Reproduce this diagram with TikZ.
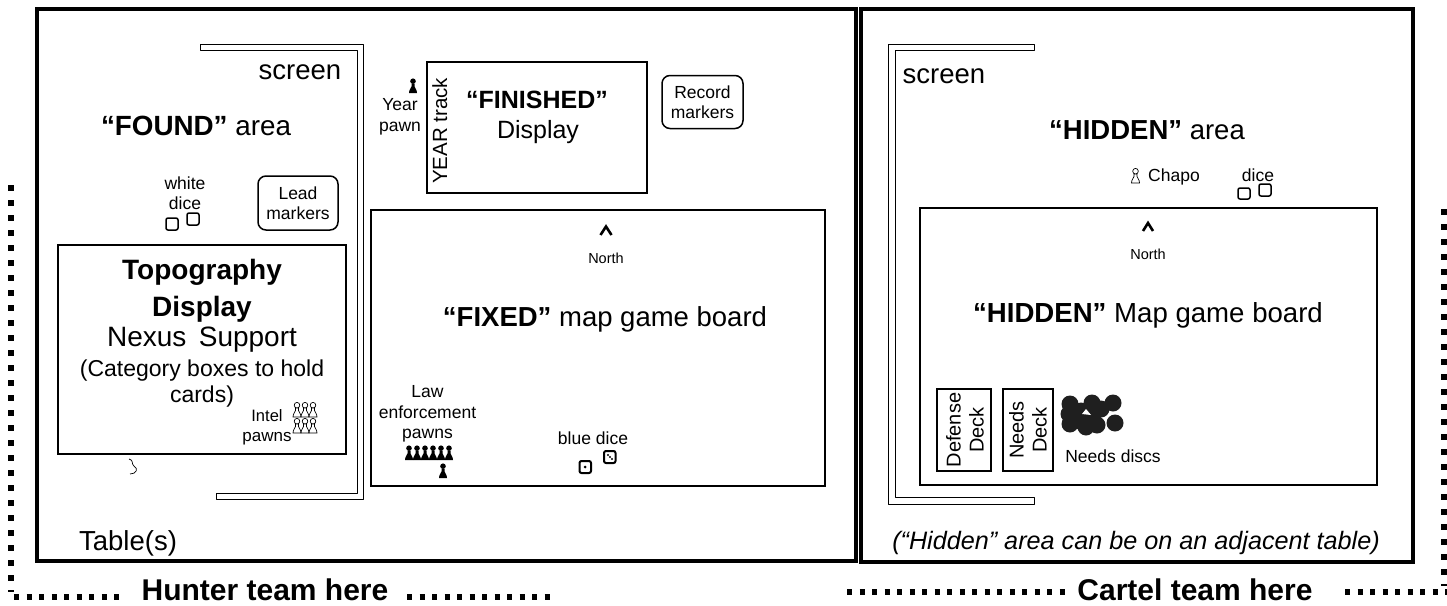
\documentclass[tikz,border=0pt]{standalone}
\usepackage{fontspec}
\setmainfont{Liberation Sans}
\newcommand\fs[2]{\fontsize{#1}{#2}\selectfont}
\tikzset{
  txt/.style={inner sep=0pt, align=center, font=\fs{17.5}{20.5}},
  bigtxt/.style={inner sep=0pt, anchor=base, font=\fs{27.5}{30}},
  decktxt/.style={inner sep=0pt, align=center, rotate=90, font=\fs{20}{23}},
  tablebox/.style={draw, line width=4pt},
  boardbox/.style={draw, line width=1.8pt},
  thinbox/.style={draw, line width=1.2pt},
  screenbox/.style={draw, line width=.8pt, line join=round},
  markerbox/.style={draw, line width=1.5pt, rounded corners=8pt, inner sep=0pt, align=center, font=\fs{17.5}{20.5}},
  diebox/.style={draw, line width=1.5pt, rounded corners=2pt},
  teamdots/.style={line width=6pt, dash pattern=on 6pt off 9pt},
  rowdots/.style={line width=5.5pt, dash pattern=on 5pt off 7.5pt},
  caret/.style={draw, line width=2.6pt, line join=miter},
  pawn/.pic={
    \path[pic actions] (-4,0) -- (4,0) -- (3.6,-2.5) -- (1.5,-6.5) -- (1.5,-9) -- (-1.5,-9) -- (-1.5,-6.5) -- (-3.6,-2.5) -- cycle (0,-11.8) circle (2.8);
  }
}

\begin{document}
\begin{tikzpicture}[x=1pt, y=-1pt, line cap=butt]
\useasboundingbox (0,0) rectangle (1447,605);

\draw[tablebox] (37,8.5) rectangle (855.5,561);
\draw[tablebox] (861,9) rectangle (1413,562);

\draw[screenbox] (200,44) -- (363,44) -- (363,499) -- (216,499) -- (216,493) -- (357,493) -- (357,50) -- (200,50) -- cycle;
\draw[screenbox] (1034,44) -- (888,44) -- (888,504) -- (1034,504) -- (1034,497) -- (895,497) -- (895,50) -- (1034,50) -- cycle;

\draw[thinbox] (58,245) rectangle (346,454);
\draw[boardbox] (371,210) rectangle (825,486);
\draw[thinbox] (427,62) rectangle (647,193);
\draw[boardbox] (920,208) rectangle (1377,485);
\draw[thinbox] (937,389) rectangle (991,471);
\draw[thinbox] (1003,389) rectangle (1053,471);

\node[markerbox, minimum width=80pt, minimum height=54pt] (leadmarkers) at (298,203) {Lead\\markers};
\node[markerbox, minimum width=81pt, minimum height=53pt] (recordmarkers) at (702.5,102) {Record\\markers};

% left table
\node[bigtxt] (screenleft) at (300,79) {screen};
\node[bigtxt, font=\fs{27.8}{30}] (foundarea) at (196,135) {\textbf{“FOUND”} area};
\node[txt] (whitedice) at (185,193) {white\\dice};
\draw[diebox] (166,218) rectangle (178,230);
\draw[diebox] (187,213) rectangle (199,225);

\node[bigtxt, font=\bfseries\fs{28}{30}] (topography) at (202,279) {Topography};
\node[bigtxt, font=\bfseries\fs{28}{30}] (topodisplay) at (202,316) {Display};
\node[bigtxt, font=\fs{28}{30}] (nexus) at (202,346) {Nexus\, Support};
\node[bigtxt, font=\fs{23}{26}] (category) at (202,376) {(Category boxes to hold};
\node[bigtxt, font=\fs{23}{26}] (cards) at (202,402) {cards)};
\node[txt, anchor=base, font=\fs{16.5}{20}] (intel) at (267,421) {Intel};
\node[txt, anchor=base, font=\fs{17}{20}] (intelpawns) at (267,441) {pawns};
\foreach \px in {297,305,313} {
  \pic[draw, line width=.7pt, fill=white] at (\px,417) {pawn};
  \pic[draw, line width=.7pt, fill=white] at (\px,433) {pawn};
}
\draw[line width=.7pt] (129,459) .. controls (134,460) and (131,464) .. (134,466) .. controls (139,469) and (136,474) .. (130,474);
\node[bigtxt] (tables) at (128,550) {Table(s)};

% middle
\node[txt] (yearpawn) at (400,117) {Year\\pawn};
\pic[fill=black] at (413,93) {pawn};
\node[decktxt, anchor=base, font=\fs{20.5}{23}] (yeartrack) at (447,131) {YEAR track};
\node[bigtxt, font=\fs{25}{30}] (finished) at (537,108) {\textbf{“FINISHED”}};
\node[bigtxt, font=\fs{25}{30}] (finisheddisplay) at (538,138) {Display};

\draw[caret] (600.5,235) -- (606,226.5) -- (611.5,235);
\node[txt, font=\fs{14.5}{17}] (northleft) at (606,258) {North};
\node[bigtxt, font=\fs{27.5}{30}] (fixedboard) at (605,326) {\textbf{“FIXED”} map game board};
\node[txt] (lawpawns) at (427.5,414) {Law\\enforcement\\pawns};
\foreach \px in {409,417,425,433,441,449} {
  \pic[fill=black] at (\px,460) {pawn};
}
\pic[fill=black] at (443,478) {pawn};
\node[txt] (bluedice) at (593,438) {blue dice};
\draw[diebox, line width=2pt] (579.5,461) rectangle (591,473);
\draw[diebox, line width=2pt] (604,451) rectangle (615.5,463);
\fill (585,467) circle (1.5);
\fill (608,455) circle (1.2) (610,457) circle (1.2) (612,459) circle (1.2);

% right table
\node[bigtxt] (screenright) at (944,83) {screen};
\node[bigtxt] (hiddenarea) at (1147,139) {\textbf{“HIDDEN”} area};
\pic[draw, line width=.7pt, fill=white] at (1135.5,183) {pawn};
\node[txt] (chapo) at (1174,177) {Chapo};
\node[txt] (dicehidden) at (1258,175) {dice};
\draw[diebox] (1238,188) rectangle (1250,199);
\draw[diebox] (1259,184) rectangle (1271,196);
\draw[caret] (1143,231) -- (1148,223) -- (1153,231);
\node[txt, font=\fs{14.5}{17}] (northright) at (1148,254) {North};
\node[bigtxt, font=\fs{27.6}{30}] (hiddenboard) at (1148,322) {\textbf{“HIDDEN”} Map game board};

\node[decktxt] (defensedeck) at (965,430) {Defense\\Deck};
\node[decktxt] (needsdeck) at (1028,430) {Needs\\Deck};
\foreach \dx/\dy in {1070/404,1092/403,1113/403,1070/424,1097/425,1115/423,1082/422,1101/409,1081/411,1093/415,1086/427,1069/414} {
  \fill[black!88] (\dx,\dy) circle (8.5);
}
\fill[white] (1082,414) -- (1086,409) -- (1091,415) -- cycle;
\node[txt] (needsdiscs) at (1113,456) {Needs discs};
\node[txt, font=\itshape\fs{25.2}{28}] (adjacent) at (1136,543) {(“Hidden” area can be on an adjacent table)};

% team rows
\node[bigtxt, font=\bfseries\fs{30}{32}] (hunterteam) at (265,600) {Hunter team here};
\node[bigtxt, font=\bfseries\fs{30}{32}] (carteldteam) at (1195,600) {Cartel team here};

\coordinate (hunterup) at (11,185);
\coordinate (hunterdown) at (11,592);
\coordinate (hunterrowa) at (14,597);
\coordinate (hunterrowb) at (123,597);
\coordinate (huntertaila) at (407,597);
\coordinate (huntertailb) at (552,597);
\coordinate (cartelrowa) at (847,592);
\coordinate (cartelrowb) at (1066,592);
\coordinate (carteltaila) at (1345,592);
\coordinate (carteltailb) at (1447,592);
\coordinate (cartelup) at (1444,209);
\coordinate (carteldown) at (1444,586);

\draw[teamdots] (hunterup) -- (hunterdown);
\draw[rowdots] (hunterrowa) -- (hunterrowb);
\draw[rowdots] (huntertaila) -- (huntertailb);
\draw[rowdots] (cartelrowa) -- (cartelrowb);
\draw[rowdots] (carteltaila) -- (carteltailb);
\draw[teamdots] (cartelup) -- (carteldown);

\end{tikzpicture}
\end{document}
